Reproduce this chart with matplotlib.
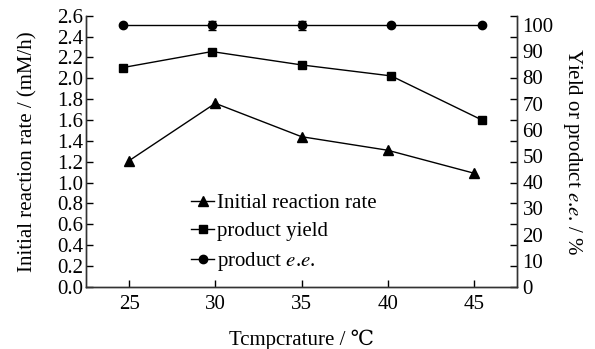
import matplotlib
matplotlib.use("Agg")
import matplotlib.pyplot as plt

# temperature (C)
temps = [25, 30, 35, 40, 45]
# yield / e.e. markers sit slightly off the nominal temperatures in the figure
temps_shifted = [24.65, 29.8, 35.0, 40.2, 45.45]

rate = [1.21, 1.76, 1.44, 1.31, 1.09]          # mM/h, left axis
yield_pct = [83.8, 89.9, 84.8, 80.6, 63.8]      # %, right axis
ee_pct = [99.9, 99.9, 99.9, 99.9, 99.9]         # %, right axis
ee_err = [0.0, 1.6, 1.6, 0.0, 0.0]

left_ticks = [0.0, 0.2, 0.4, 0.6, 0.8, 1.0, 1.2, 1.4, 1.6, 1.8, 2.0, 2.2, 2.4, 2.6]
right_ticks = [0, 10, 20, 30, 40, 50, 60, 70, 80, 90, 100]

plt.rcParams["font.family"] = ["Liberation Serif", "DejaVu Serif"]
plt.rcParams["mathtext.fontset"] = "stix"
plt.rcParams["font.size"] = 15

fig = plt.figure(figsize=(5.95, 3.49), dpi=100)
ax = fig.add_axes([0.1445, 0.178, 0.7245, 0.777])
ax2 = ax.twinx()

ax.set_xlim(22.5, 47.5)
ax.set_ylim(0, 2.6)
ax2.set_ylim(0, 103.6)

l1, = ax.plot(temps, rate, "k-", marker="^", markersize=7, linewidth=1.0)
l2, = ax2.plot(temps_shifted, yield_pct, "k-", marker="s", markersize=6, linewidth=1.0)
ax2.errorbar(temps_shifted, ee_pct, yerr=ee_err, fmt="none", ecolor="k",
             elinewidth=1.0, capsize=3)
l3, = ax2.plot(temps_shifted, ee_pct, "k-", marker="o", markersize=6, linewidth=1.0)

ax.set_xticks(temps)
ax.set_yticks(left_ticks)
ax.set_yticklabels([f"{t:.1f}" for t in left_ticks])
# left-axis tick marks are mirrored onto the right spine, pointing inward
ax.tick_params(axis="both", direction="in", length=5, width=1.0, right=True,
               colors="black")
ax.tick_params(axis="x", pad=6)
ax.tick_params(axis="y", pad=2)

ax2.set_yticks(right_ticks)
ax2.tick_params(axis="y", length=0, pad=4)

for a in (ax, ax2):
    a.spines["top"].set_visible(False)
    for s in ("left", "right", "bottom"):
        a.spines[s].set_linewidth(1.0)
        a.spines[s].set_color("#333333")

ee = "$\\mathit{e}$.$\\mathit{e}$."
ax.set_xlabel("Tcmpcrature / \u2103", labelpad=11)
ax.set_ylabel("Initial reaction rate / (mM/h)", labelpad=14)
ax2.set_ylabel(f"Yield or product {ee} / %", rotation=270, labelpad=22)

ax.legend([l1, l2, l3],
          ["Initial reaction rate", "product yield", f"product {ee}"],
          loc="lower left", bbox_to_anchor=(0.225, 0.02), frameon=False,
          handlelength=1.1, handletextpad=0.15, labelspacing=0.42,
          borderaxespad=0)

fig.savefig("out.png", dpi=100)
